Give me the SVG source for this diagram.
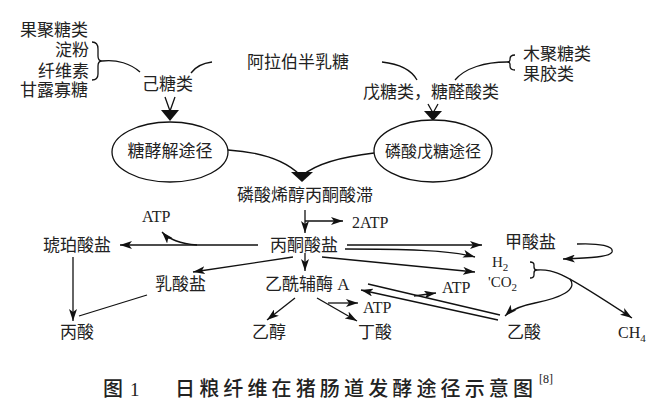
<svg xmlns="http://www.w3.org/2000/svg" width="665" height="418" viewBox="0 0 665 418">
<style>
.t{font-family:"Noto Sans CJK SC","Liberation Serif",serif;font-size:17px;fill:#222}
.l{font-family:"Liberation Serif",serif;font-size:16px;fill:#222}
.s{font-family:"Liberation Serif",serif;font-size:11px;fill:#222}
.c{stroke:#111;stroke-width:1.3;fill:none}
.e{stroke:#111;stroke-width:1.3;fill:#fff}
.h{fill:#111;stroke:none}
.cap{font-size:20px;font-weight:500}
</style>
<defs>
<marker id="ah" viewBox="0 0 12 8" refX="12" refY="4" markerWidth="12" markerHeight="8" orient="auto" markerUnits="userSpaceOnUse">
<path d="M0,0 L12,4 L0,8 L3,4 z" fill="#111"/>
</marker>
</defs>
<rect width="665" height="418" fill="#fff"/>
<g id="connectors">
<path class="c" d="M92,42 Q98,42 98,49 L98,56 Q98,61 102,61 Q98,61 98,66 L98,74 Q98,80 92,80"/>
<path class="c" d="M102,61 C117,59 131,64 140,72"/>
<path class="c" d="M191,73 C196,66 204,63 212,62"/>
<path class="c" d="M382,62 C400,64 412,71 417,80"/>
<path class="c" d="M515,55 Q510,55 510,59 L510,60 Q510,62 507,62 Q510,62 510,64 L510,66 Q510,70 515,70"/>
<path class="c" d="M507,62 C485,62 465,68 455,80"/>
<path class="c" d="M165,97 L170,111 L175,97"/>
<polygon class="h" points="161,110 179,110 170,121"/>
<path class="c" d="M428,104 L433,113 L438,104"/>
<polygon class="h" points="424,111 442,111 433,121"/>
<path class="c" d="M228,150 C260,152 285,160 300,175"/>
<path class="c" d="M374,153 C340,157 315,165 303,175"/>
<polygon class="h" points="291,172 313,172 302,182"/>
<path class="c" d="M305,210 L305,233" marker-end="url(#ah)"/>
<path class="c" d="M305,221 L343,221" marker-end="url(#ah)"/>
<path class="c" d="M305,253 L305,271" marker-end="url(#ah)"/>
<path class="c" d="M258,245 L120,245" marker-end="url(#ah)"/>
<path class="c" d="M197,245 Q172,243 162,232" marker-end="url(#ah)"/>
<path class="c" d="M73,257 L73,321" marker-end="url(#ah)"/>
<path class="c" d="M147,295 L79,316"/>
<path class="c" d="M293,257 L193,272" marker-end="url(#ah)"/>
<path class="c" d="M295,298 L267,320" marker-end="url(#ah)"/>
<path class="c" d="M317,298 L357,321" marker-end="url(#ah)"/>
<path class="c" d="M328,303 L358,303" marker-end="url(#ah)"/>
<path class="c" d="M347,245 L482,245" marker-end="url(#ah)"/>
<path class="c" d="M345,249 C400,249 450,250 475,257" marker-end="url(#ah)"/>
<path class="c" d="M322,257 L475,272" marker-end="url(#ah)"/>
<path class="c" d="M577,244 C600,243 614,246 612,252 C610,257 590,258 563,259" marker-end="url(#ah)"/>
<path class="c" d="M530,262 Q534,262 534,265 L534,267 Q534,270 537,270 Q534,270 534,273 L534,275 Q534,278 530,278"/>
<path class="c" d="M537,270 C555,269 565,274 632,318" marker-end="url(#ah)"/>
<path class="c" d="M570,279 C578,290 560,298 535,303 C520,306 510,311 505,316" marker-end="url(#ah)"/>
<path class="c" d="M368,284 L500,315"/>
<path class="c" d="M498,320 L361,290" marker-end="url(#ah)"/>
<path class="c" d="M414,296 L436,293" marker-end="url(#ah)"/>
</g>
<g id="n-glycolysis"><ellipse class="e" cx="170" cy="152" rx="58" ry="30"/><text class="t" x="170" y="157" text-anchor="middle">糖酵解途径</text></g>
<g id="n-ppp"><ellipse class="e" cx="433" cy="151" rx="59" ry="31"/><text class="t" x="433" y="157" text-anchor="middle" style="font-size:16px">磷酸戊糖途径</text></g>
<g id="n-fructan"><text class="t" x="20" y="36">果聚糖类</text></g>
<g id="n-starch"><text class="t" x="89" y="56" text-anchor="end">淀粉</text></g>
<g id="n-cellulose"><text class="t" x="89" y="77" text-anchor="end">纤维素</text></g>
<g id="n-mos"><text class="t" x="20" y="96">甘露寡糖</text></g>
<g id="n-hexose"><text class="t" x="142" y="90">己糖类</text></g>
<g id="n-arabino"><text class="t" x="247" y="68">阿拉伯半乳糖</text></g>
<g id="n-pentose"><text class="t" x="363" y="98">戊糖类，糖醛酸类</text></g>
<g id="n-xylan"><text class="t" x="523" y="60">木聚糖类</text></g>
<g id="n-pectin"><text class="t" x="523" y="80">果胶类</text></g>
<g id="n-pep"><text class="t" x="237" y="201">磷酸烯醇丙酮酸滞</text></g>
<g id="n-2atp"><text class="l" x="352" y="228">2ATP</text></g>
<g id="n-atp1"><text class="l" x="142" y="222">ATP</text></g>
<g id="n-pyruvate"><text class="t" x="270" y="251">丙酮酸盐</text></g>
<g id="n-succinate"><text class="t" x="43" y="251">琥珀酸盐</text></g>
<g id="n-formate"><text class="t" x="505" y="248">甲酸盐</text></g>
<g id="n-acetylcoa"><text class="t" x="265" y="290">乙酰辅酶<tspan class="l" style="font-size:17px"> A</tspan></text></g>
<g id="n-lactate"><text class="t" x="155" y="290">乳酸盐</text></g>
<g id="n-h2"><text class="l" x="492" y="267" style="font-size:15px">H<tspan class="s" dy="4">2</tspan></text></g>
<g id="n-co2"><text class="l" x="488" y="287" style="font-size:15px">'CO<tspan class="s" dy="4">2</tspan></text></g>
<g id="n-atp2"><text class="l" x="442" y="293">ATP</text></g>
<g id="n-atp3"><text class="l" x="363" y="313">ATP</text></g>
<g id="n-propionate"><text class="t" x="60" y="338">丙酸</text></g>
<g id="n-ethanol"><text class="t" x="252" y="338">乙醇</text></g>
<g id="n-butyrate"><text class="t" x="358" y="338">丁酸</text></g>
<g id="n-acetate"><text class="t" x="507" y="338">乙酸</text></g>
<g id="n-ch4"><text class="l" x="618" y="338">CH<tspan class="s" dy="4">4</tspan></text></g>
<g id="caption">
<text class="t cap" x="103" y="396">图</text>
<text class="l" x="130" y="396" style="font-size:19px">1</text>
<text class="t cap" x="175" y="396" textLength="358" lengthAdjust="spacing">日粮纤维在猪肠道发酵途径示意图</text>
<text class="s" x="539" y="383" style="font-size:12px">[8]</text>
</g>
</svg>
